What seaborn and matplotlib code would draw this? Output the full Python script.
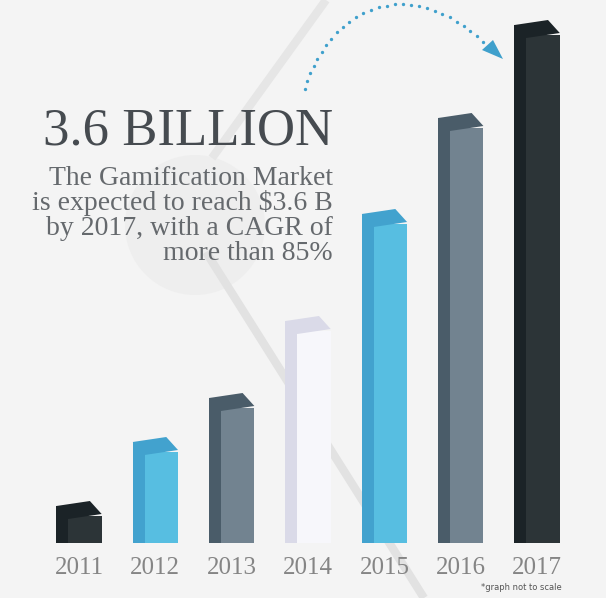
import numpy as np
import pandas as pd
import seaborn as sns
import matplotlib
matplotlib.use("Agg")
import matplotlib.pyplot as plt
from matplotlib.patches import Polygon, Rectangle, Circle

years = ["2011", "2012", "2013", "2014", "2015", "2016", "2017"]
# relative bar heights (the graph is "not to scale")
bar_heights = [27, 91, 135, 212, 319, 415, 508]
front_colors = ["#2c3437", "#57bee1", "#728390", "#f7f7fb", "#57bee1", "#728390", "#2c3437"]
side_colors = ["#1b2327", "#42a2ce", "#4a5c69", "#dadae8", "#42a2ce", "#4a5c69", "#1b2327"]

headline = "3.6 BILLION"
blurb = ["The Gamification Market",
         "is expected to reach $3.6 B",
         "by 2017, with a CAGR of",
         "more than 85%"]
footnote = "*graph not to scale"

W, H = 606, 598
BG = "#f4f4f4"
SERIF = "Liberation Serif"

sns.set_style("white")
fig = plt.figure(figsize=(W / 100, H / 100), dpi=100, facecolor=BG)

# background decoration, pixel coordinates
bg = fig.add_axes([0, 0, 1, 1], zorder=0)
bg.set_xlim(0, W)
bg.set_ylim(H, 0)
bg.axis("off")
bg.add_patch(Circle((195, 225), 70, color="#eeeeee", lw=0))
bg.plot([326, 212], [0, 158], color="#e6e6e6", lw=6, solid_capstyle="butt")
bg.plot([206, 424], [252, 598], color="#e2e2e2", lw=6, solid_capstyle="butt")

# dotted arrow
p0, p1, p2, p3 = map(np.array, [(305, 89), (325, 15), (405, -35), (486, 45)])
t = np.linspace(0, 1, 400)[:, None]
curve = (1 - t) ** 3 * p0 + 3 * t * (1 - t) ** 2 * p1 + 3 * t ** 2 * (1 - t) * p2 + t ** 3 * p3
seg = np.r_[0, np.cumsum(np.hypot(*np.diff(curve, axis=0).T))]
s = np.arange(0, seg[-1], 8.2)
bg.plot(np.interp(s, seg, curve[:, 0]), np.interp(s, seg, curve[:, 1]),
        ls="none", marker="o", ms=2.4, mew=0, color="#3fa0cc")
bg.add_patch(Polygon([(482, 50), (493, 40), (503, 59)], closed=True, color="#3fa0cc", lw=0))

# bars
ax = fig.add_axes([0, 55 / H, 1, 543 / H], zorder=1)
ax.patch.set_alpha(0)
df = pd.DataFrame({"year": years, "height": bar_heights})
sns.barplot(data=df, x="year", y="height", hue="year", palette=front_colors,
            saturation=1, width=0.593, legend=False, ax=ax, linewidth=0)
ax.set_xlim(-1.035, 6.902)
ax.set_ylim(0, 543)

for p, side in zip(sorted(ax.patches, key=lambda r: r.get_x()), side_colors):
    x0, w, h = p.get_x(), p.get_width(), p.get_height()
    ax.add_patch(Rectangle((x0, 0), 0.26 * w, h + 10, color=side, lw=0, zorder=3))
    ax.add_patch(Polygon([(x0, h + 10), (x0 + 0.74 * w, h + 15), (x0 + w, h + 2),
                          (x0 + 0.26 * w, h - 3)], closed=True, color=side, lw=0, zorder=3))

ax.set_xlabel("")
ax.set_ylabel("")
ax.set_yticks([])
sns.despine(ax=ax, left=True, bottom=True)
ax.tick_params(axis="x", length=0, pad=10, labelsize=18, labelcolor="#858585")
for lab in ax.get_xticklabels():
    lab.set_family(SERIF)

# text
fig.text(333 / W, 1 - 145 / H, headline, ha="right", va="baseline",
         fontsize=38, family=SERIF, color="#464b50")
for i, line in enumerate(blurb):
    fig.text(333 / W, 1 - (185 + 25 * i) / H, line, ha="right", va="baseline",
             fontsize=20, family=SERIF, color="#65696d")
fig.text(562 / W, 1 - 590 / H, footnote, ha="right", va="baseline",
         fontsize=6, color="#555555")

fig.savefig("out.png", dpi=100, facecolor=BG)
